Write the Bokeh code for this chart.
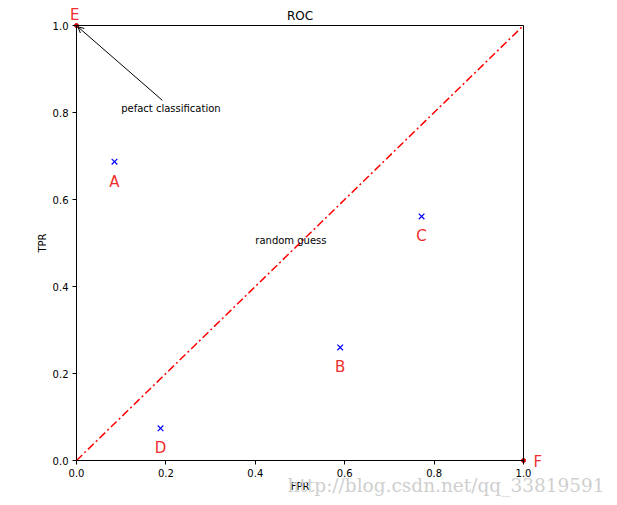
from bokeh.plotting import figure
from bokeh.models import (Range1d, FixedTicker, PrintfTickFormatter, Label, Arrow, OpenHead,
                          LinearAxis)
from bokeh.embed import file_html
from bokeh.resources import INLINE

# data
names = ["A", "B", "C", "D"]
fpr = [0.085, 0.59, 0.772, 0.188]
tpr = [0.687, 0.26, 0.561, 0.074]
corner_names = ["E", "F"]
corner_fpr = [0.0, 1.0]
corner_tpr = [1.0, 0.0]
ticks = [0.0, 0.2, 0.4, 0.6, 0.8, 1.0]
diag_x = [0.0, 1.0]
diag_y = [0.0, 1.0]

FONT = "DejaVu Sans"
RED = "#f03030"

# layout (pixels): plotting box left 76, right 523, top 25, bottom 460 on a 617x505 canvas
W, H = 617, 505
L, R, T, B = 76, 523, 25, 460
sx = R - L
sy = B - T
x_range = Range1d(-L / sx, (W - L) / sx)
y_range = Range1d(-(H - B) / sy, B / sy)

p = figure(width=W, height=H, output_backend="svg", toolbar_location=None,
           x_range=x_range, y_range=y_range, x_axis_type=None, y_axis_type=None,
           min_border=0)
p.grid.visible = False
p.outline_line_color = None

# watermark (drawn first, behind everything)
p.add_layout(Label(x=(287 - L) / sx, y=(B - 485) / sy,
                   text="http://blog.csdn.net/qq_33819591", text_font="DejaVu Serif",
                   text_font_size="18.5px", text_color="#cfcfcf", text_baseline="middle", text_align="left"))


def style(ax, labels=True):
    ax.bounds = (0, 1)
    ax.minor_tick_line_color = None
    ax.axis_line_color = "black"
    ax.axis_line_width = 1
    if labels:
        ax.ticker = FixedTicker(ticks=ticks)
        ax.formatter = PrintfTickFormatter(format="%.1f")
        ax.major_tick_in = 0
        ax.major_tick_out = 4
        ax.major_tick_line_color = "black"
        ax.major_label_text_font = FONT
        ax.major_label_text_font_size = "10px"
        ax.major_label_text_color = "black"
        ax.major_label_standoff = 4
        ax.axis_label_text_font = FONT
        ax.axis_label_text_font_size = "10px"
        ax.axis_label_text_font_style = "normal"
        ax.axis_label_text_color = "black"
    else:
        ax.ticker = FixedTicker(ticks=[])
        ax.major_tick_line_color = None
        ax.major_label_text_font_size = "0px"


xb = LinearAxis(fixed_location=0, axis_label="FPR")
style(xb)
xb.axis_label_standoff = 1
yl = LinearAxis(fixed_location=0, axis_label="TPR")
style(yl)
yl.axis_label_standoff = 2
xt = LinearAxis(fixed_location=1)
style(xt, labels=False)
yr = LinearAxis(fixed_location=1)
style(yr, labels=False)
p.add_layout(xb, "below")
p.add_layout(yl, "left")
p.add_layout(xt, "above")
p.add_layout(yr, "right")

p.line(diag_x, diag_y, line_color="red", line_width=1.5, line_dash="8 3 2 3")
p.scatter(fpr, tpr, marker="x", size=8, line_color="blue", line_width=1.2)
p.scatter(corner_fpr, corner_tpr, marker="circle", size=4, fill_color="#cc0000", line_color="#cc0000")

for n, x, y in zip(names, fpr, tpr):
    p.add_layout(Label(x=x, y=y - 0.046, text=n, text_color=RED, text_font=FONT,
                       text_font_size="15px", text_align="center", text_baseline="middle"))

p.add_layout(Label(x=corner_fpr[0] - 0.004, y=corner_tpr[0] + 0.023, text=corner_names[0], text_color=RED,
                   text_font=FONT, text_font_size="15px", text_align="center", text_baseline="middle"))
p.add_layout(Label(x=corner_fpr[1] + 0.032, y=corner_tpr[1] - 0.004, text=corner_names[1], text_color=RED,
                   text_font=FONT, text_font_size="15px", text_align="center", text_baseline="middle"))

# title
p.add_layout(Label(x=0.5, y=1.0 + 10 / sy, text="ROC", text_font=FONT, text_color="black",
                   text_font_size="12px", text_align="center", text_baseline="middle"))

p.add_layout(Arrow(x_start=0.192, y_start=0.828, x_end=0.003, y_end=0.997,
                   line_color="black", line_width=1,
                   end=OpenHead(size=6, line_color="black", line_width=1)))
p.add_layout(Label(x=0.1, y=0.8 + 4 / sy, text="pefact classification", text_font=FONT, text_color="black",
                   text_font_size="10px", text_baseline="alphabetic", text_align="left"))
p.add_layout(Label(x=0.4, y=0.5 + 3 / sy, text="random guess", text_font=FONT, text_color="black",
                   text_font_size="10px", text_baseline="middle", text_align="left"))

open("out.html", "w").write(file_html(p, INLINE))
